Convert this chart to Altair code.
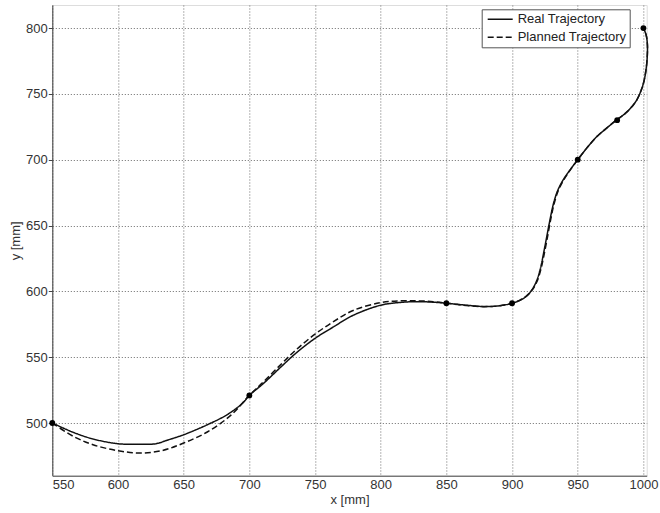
import altair as alt
import pandas as pd

series_names = ["Real Trajectory", "Planned Trajectory"]

real_x = [550, 566, 581, 600, 615, 629, 637, 650, 668, 683, 695, 700, 711, 725, 736, 750,
          764, 779, 800, 815, 828, 840, 850, 865, 878, 890, 900, 906, 911, 915, 918.5,
          921.5, 924, 926.5, 929, 931.5, 934.5, 938.5, 943, 950, 957, 964, 972, 980, 986,
          991, 995, 998, 1000.5, 1002.2, 1003, 1003, 1002, 1000]
real_y = [500, 492.9, 487.9, 484.3, 483.9, 484.3, 486.8, 491.1, 498.7, 506.3, 515.2, 521,
          530.3, 543.5, 553.5, 564.3, 573, 581.8, 589.5, 591.6, 592.2, 591.8, 591, 589.5,
          588.5, 589, 591, 593.2, 596.3, 601, 607.5, 617, 629, 642, 655, 666.5, 676, 684,
          690.7, 700, 709, 717, 724, 730.5, 735, 740, 745.5, 752, 760, 770, 780, 788, 795, 800]

plan_x = [550, 566, 581, 600, 617, 634, 650, 668, 686, 700, 711, 725, 736, 750, 764, 779,
          800, 815, 828, 840, 850, 865, 878, 890, 900, 906, 911, 915.3, 919, 922, 924.6,
          927.1, 929.5, 932, 935, 939, 943.3, 950, 957, 964, 972, 980, 986, 991, 995, 998,
          1000.5, 1002.2, 1003, 1003, 1002, 1000]
plan_y = [500, 489.9, 483.5, 479, 477.2, 479.2, 484.8, 493.2, 506, 521, 531.5, 545.5, 556,
          567.5, 577, 585.5, 591.5, 592.8, 592.8, 592.2, 591, 589.3, 588.4, 589, 591, 593.4,
          596.6, 601, 607.5, 617, 629, 642, 655, 666.5, 676, 684, 690.7, 700, 709, 717,
          724, 730.5, 735, 740, 745.5, 752, 760, 770, 780, 788, 795, 800]

way_x = [550, 700, 850, 900, 950, 980, 1000]
way_y = [500, 521, 591, 591, 700, 730, 800]

x_ticks = [550, 600, 650, 700, 750, 800, 850, 900, 950, 1000]
y_ticks = [500, 550, 600, 650, 700, 750, 800]

rows = []
for i, (x, y) in enumerate(zip(real_x, real_y)):
    rows.append({"series": series_names[0], "x": x, "y": y, "i": i})
for i, (x, y) in enumerate(zip(plan_x, plan_y)):
    rows.append({"series": series_names[1], "x": x, "y": y, "i": i})
lines_df = pd.DataFrame(rows)
way_df = pd.DataFrame({"x": way_x, "y": way_y})

xscale = alt.Scale(domain=[550, 1002.5], nice=False, zero=False)
yscale = alt.Scale(domain=[460, 817.5], nice=False, zero=False)

x_axis = alt.Axis(values=x_ticks, title="x [mm]", grid=True, gridDash=[1, 2],
                  gridColor="#6a6a6a", gridOpacity=1, tickSize=0, labelPadding=3,
                  titlePadding=2, format="d")
y_axis = alt.Axis(values=y_ticks, title="y [mm]", grid=True, gridDash=[1, 2],
                  gridColor="#6a6a6a", gridOpacity=1, tickSize=4, labelPadding=1,
                  titlePadding=3, format="d")

lines = alt.Chart(lines_df).mark_line(
    interpolate="catmull-rom", strokeWidth=1.5, color="#111111", clip=False
).encode(
    x=alt.X("x:Q", scale=xscale, axis=x_axis),
    y=alt.Y("y:Q", scale=yscale, axis=y_axis),
    order=alt.Order("i:Q"),
    strokeDash=alt.StrokeDash(
        "series:N",
        scale=alt.Scale(domain=series_names, range=[[1, 0], [6, 3]]),
        legend=alt.Legend(
            orient="none", legendX=429.4, legendY=4.3, title=None,
            symbolType="stroke", symbolSize=625, symbolStrokeWidth=1.5,
            symbolStrokeColor="#111111", fillColor="white", strokeColor="#555555",
            padding=3, symbolOffset=2, clipHeight=14, rowPadding=4,
            labelFontSize=13, labelOffset=4, labelColor="#222222",
            labelFont="Liberation Sans",
        ),
    ),
)

points = alt.Chart(way_df).mark_circle(size=34, color="#000000", opacity=1).encode(
    x=alt.X("x:Q", scale=xscale),
    y=alt.Y("y:Q", scale=yscale),
)

chart = alt.layer(lines, points).properties(
    width=594.4,
    height=470.7,
    autosize=alt.AutoSizeParams(type="none"),
    padding={"left": 52.3, "top": 5, "right": 13.3, "bottom": 37.3},
    background="white",
).configure_view(stroke=None).configure(
    font="Liberation Sans"
).configure_axis(
    domainColor="#444444", tickColor="#444444", labelColor="#333333",
    titleColor="#333333", labelFontSize=13, titleFontSize=13,
    titleFontWeight="normal", labelFont="Liberation Sans", titleFont="Liberation Sans",
)

chart.save("out.html", embed_options={"renderer": "svg", "actions": False})
